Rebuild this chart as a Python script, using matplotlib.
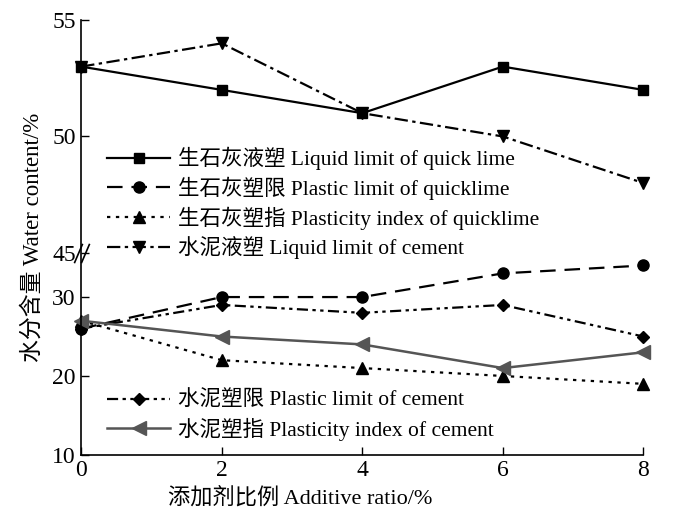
import numpy as np
import matplotlib
matplotlib.use("Agg")
from matplotlib import pyplot as plt
from matplotlib import transforms

# datos
ratio = [0, 2, 4, 6, 8]
ll_quicklime = [53, 52, 51, 53, 52]
pl_quicklime = [26, 30, 30, 33, 34]
pi_quicklime = [27, 22, 21, 20, 19]
ll_cement = [53, 54, 51, 50, 48]
pl_cement = [26, 29, 28, 29, 25]
pi_cement = [27, 25, 24, 21, 23]

y_ticks = [10, 20, 30, 45, 50, 55]
x_ticks = [0, 2, 4, 6, 8]

labels = ["生石灰液塑 Liquid limit of quick lime",
          "生石灰塑限 Plastic limit of quicklime",
          "生石灰塑指 Plasticity index of quicklime",
          "水泥液塑 Liquid limit of cement",
          "水泥塑限 Plastic limit of cement",
          "水泥塑指 Plasticity index of cement"]

plt.rcParams['font.family'] = ['Liberation Serif', 'Noto Sans CJK SC']

# eje y partido: 10-35.6 abajo, 45-55 arriba
real = [10, 35.5, 45, 55]
vis = [10, 35.5, 35.6, 65.1]


def fwd(y):
    return np.interp(y, real, vis)


def inv(v):
    return np.interp(v, vis, real)


fig = plt.figure(figsize=(7, 5.14), dpi=100)
ax = fig.add_axes([0.116, 0.115, 0.803, 0.846])
ax.set_yscale("function", functions=(fwd, inv))

ms = 8
l1, = ax.plot(ratio, ll_quicklime, color="k", lw=1.6, ls="-", marker="s", ms=ms - 1, clip_on=False)
l2, = ax.plot(ratio, pl_quicklime, color="k", lw=1.6, ls=(0, (7, 4)), marker="o", ms=ms, clip_on=False)
l3, = ax.plot(ratio, pi_quicklime, color="k", lw=1.6, ls=(0, (1.5, 2.5)), marker="^", ms=ms, clip_on=False)
l4, = ax.plot(ratio, ll_cement, color="k", lw=1.6, ls=(0, (6, 2, 1.5, 2)), marker="v", ms=ms, clip_on=False)
l5, = ax.plot(ratio, pl_cement, color="k", lw=1.6, ls=(0, (5, 2, 1.5, 2, 1.5, 2)), marker="D", ms=ms - 1.5, clip_on=False)
l6, = ax.plot(ratio, pi_cement, color="#555555", lw=1.8, ls="-", marker="<", ms=ms + 2, clip_on=False)

ax.set_xlim(0, 8)
ax.set_ylim(10, 55)
ax.set_xticks(x_ticks)
ax.set_yticks(y_ticks)
ax.set_yticklabels([str(t) for t in y_ticks])
ax.minorticks_off()
ax.tick_params(direction="in", length=6, width=1, labelsize=17, pad=4)
for s in ["top", "right"]:
    ax.spines[s].set_visible(False)
for s in ["left", "bottom"]:
    ax.spines[s].set_linewidth(1.2)

ax.set_xlabel("添加剂比例 Additive ratio/%", fontsize=16, labelpad=2)
ax.xaxis.set_label_coords(0.39, -0.075)
ax.set_ylabel("水分含量 Water content/%", fontsize=16.5, labelpad=6)

# marca de corte "//" en el eje
blend = transforms.blended_transform_factory(ax.transAxes, ax.transData)
for dx in [-2.5, 2.5]:
    tr = transforms.offset_copy(blend, fig=fig, x=dx, y=0, units="points")
    ax.plot([0], [45], marker=[(-3, -7), (3, 7)], ms=14, mew=1.2, color="k",
            transform=tr, clip_on=False)

leg1 = ax.legend([l1, l2, l3, l4], labels[:4], loc="upper left",
                 bbox_to_anchor=(0.138, 0.735), bbox_transform=fig.transFigure,
                 frameon=False, fontsize=15.5, handlelength=2.9, handletextpad=0.4,
                 labelspacing=0.3, borderpad=0)
ax.add_artist(leg1)
ax.legend([l5, l6], labels[4:], loc="upper left",
          bbox_to_anchor=(0.138, 0.26), bbox_transform=fig.transFigure,
          frameon=False, fontsize=15.5, handlelength=2.9, handletextpad=0.4,
          labelspacing=0.3, borderpad=0)

fig.savefig("out.png", dpi=100)
